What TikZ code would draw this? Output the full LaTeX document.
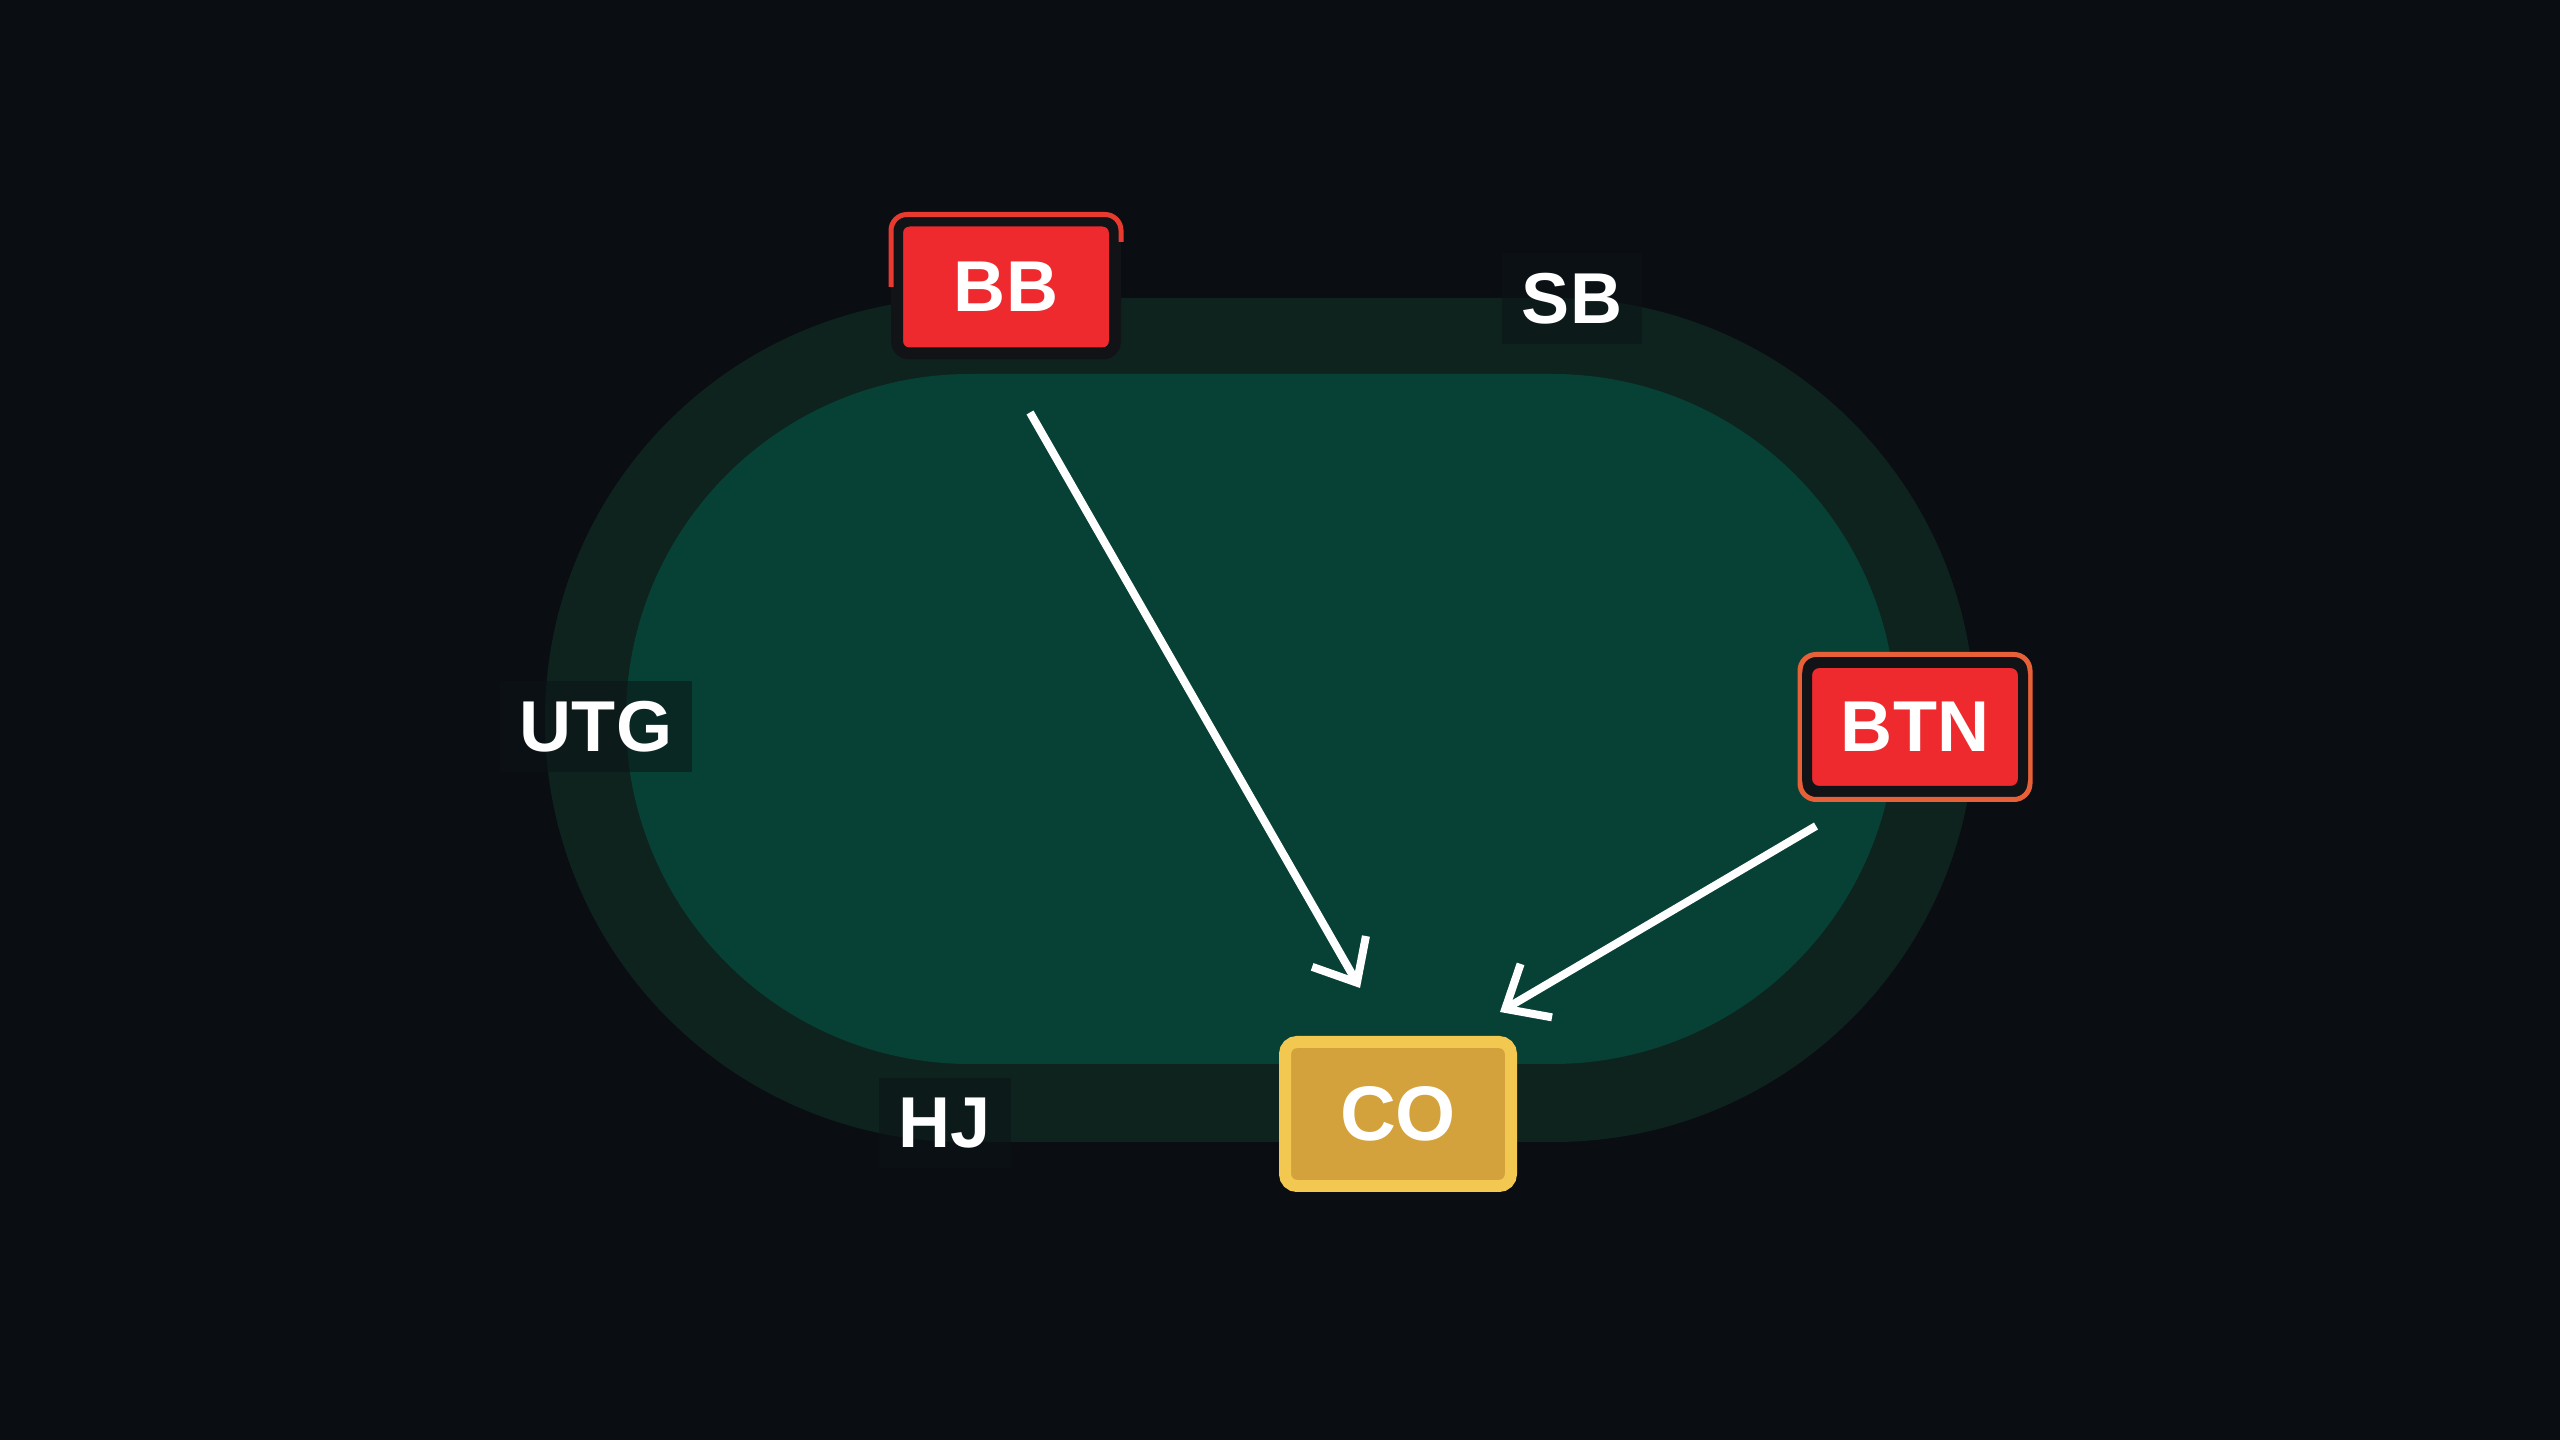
\documentclass[tikz,border=0pt]{standalone}
\usepackage{fontspec}
\setmainfont{Liberation Sans}
\usepackage{tikz}
\usetikzlibrary{arrows.meta,positioning}
\definecolor{bgdark}{RGB}{10,13,18}
\definecolor{railgreen}{RGB}{14,35,30}
\definecolor{feltgreen}{RGB}{7,65,54}
\definecolor{seatred}{RGB}{238,42,46}
\definecolor{seatdark}{RGB}{18,19,22}
\definecolor{framered}{RGB}{232,58,46}
\definecolor{frameorange}{RGB}{232,96,56}
\definecolor{cogold}{RGB}{212,162,60}
\definecolor{colight}{RGB}{242,200,80}
\definecolor{tagdark}{RGB}{11,20,22}
\newcommand{\seatfont}{\fontsize{20.5}{24}\selectfont\bfseries}

\begin{document}
\begin{tikzpicture}[
  seat/.style={rounded corners=0.12cm, fill=seatred, draw=seatdark, line width=0.12cm,
    text=white, font=\seatfont, minimum width=2.18cm, minimum height=1.33cm},
  hero/.style={seat, fill=cogold, draw=colight, minimum width=2.26cm, minimum height=1.44cm,
    font=\fontsize{22}{26}\selectfont\bfseries},
  ring/.style={rounded corners=0.16cm, draw=frameorange, line width=0.05cm, fill=seatdark},
  tag/.style={fill=tagdark, fill opacity=0.55, text opacity=1, text=white, font=\seatfont, inner sep=0.2cm},
  pass/.style={draw=white, line width=0.08cm, -{Straight Barb[length=0.36cm,width=0.62cm]}}
]
\useasboundingbox (0,0) rectangle (25.6,14.4);
\fill [bgdark] (0,0) rectangle (25.6,14.4);
% table: rail and felt
\fill [railgreen, rounded corners=4.21cm] (5.45,2.98) rectangle (19.75,11.42);
\fill [feltgreen, rounded corners=3.44cm] (6.26,3.76) rectangle (18.96,10.66);
% seats
\node [seat] (BB) at (10.06,11.53) {BB};
\draw [framered, line width=0.05cm, rounded corners=0.16cm] (BB.west) |- (BB.north) -| ([yshift=0.45cm]BB.east);
\node [ring, minimum width=2.30cm, minimum height=1.45cm] (BTNring) at (19.15,7.13) {};
\node [seat, minimum width=2.16cm, minimum height=1.28cm, line width=0.1cm] (BTN) at (BTNring) {BTN};
\node [hero] (CO) at (13.98,3.26) {CO};
\node [tag] (SB) at (15.72,11.41) {SB};
\node [tag] (UTG) at (5.96,7.13) {UTG};
\node [tag] (HJ) at (9.45,3.17) {HJ};
% passes to the cutoff
\draw [pass] ([shift={(0.24,-0.53)}]BB.south) -- ([shift={(-0.38,0.48)}]CO.north);
\draw [pass] ([shift={(-0.99,-0.24)}]BTNring.south) -- ([shift={(1.02,0.24)}]CO.north);
\end{tikzpicture}
\end{document}
